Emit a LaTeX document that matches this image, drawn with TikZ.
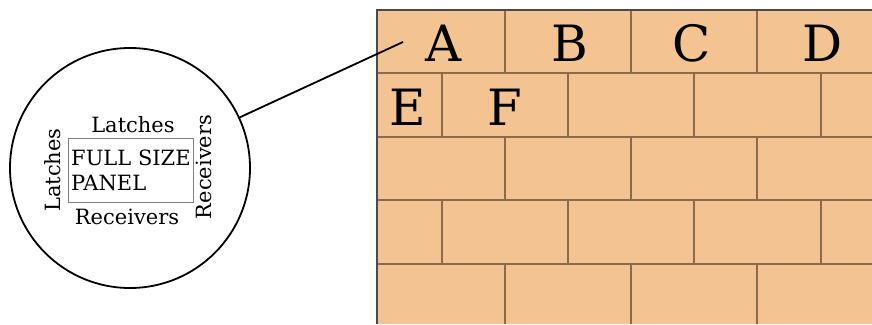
\documentclass[tikz,border=0pt]{standalone}
\usepackage{fontspec}
\setmainfont{DejaVu Serif}
\definecolor{brickfill}{HTML}{F3C491}
\definecolor{brickline}{HTML}{8C6B4A}
\definecolor{walledge}{HTML}{4A4A4A}
\begin{document}
\begin{tikzpicture}[x=1pt,y=-1pt,
  brick/.style={draw=brickline, line width=1.2pt},
  lbl/.style={font=\fontsize{21}{23}\selectfont, inner sep=0pt},
  big/.style={font=\fontsize{50}{52}\selectfont, inner sep=0pt}]
\useasboundingbox (0,0) rectangle (872,324);
% wall
\fill[brickfill] (377,10) rectangle (872,324);
\foreach \y in {73,137,200,264} \draw[brick] (377,\y) -- (872,\y);
\foreach \ya/\yb in {10/73,137/200,264/324}
  \foreach \x in {505,631,757} \draw[brick] (\x,\ya) -- (\x,\yb);
\foreach \ya/\yb in {73/137,200/264}
  \foreach \x in {442,568,694,821} \draw[brick] (\x,\ya) -- (\x,\yb);
\draw[draw=walledge, line width=2pt] (377,324) -- (377,10) -- (872,10);
% letters
\node[big] (A) at (444,43) {A};
\node[big] (B) at (570,43) {B};
\node[big] (C) at (692,43) {C};
\node[big] (D) at (823,43) {D};
\node[big] (E) at (408,107) {E};
\node[big] (F) at (505,107) {F};
% detail circle
\node[circle, draw, line width=1.8pt, minimum size=240pt, inner sep=0pt] (circ) at (130,168) {};
\node[draw=gray, line width=0.8pt, minimum width=125pt, minimum height=64pt, inner sep=0pt] (panel) at (130.5,170) {};
\node[lbl, anchor=west] (full) at (71,158) {FULL SIZE};
\node[lbl, anchor=west] (pan) at (71,183) {PANEL};
\node[lbl] (ltop) at (133,125) {Latches};
\node[lbl, rotate=90] (lleft) at (53,170) {Latches};
\node[lbl, rotate=90] (rright) at (204,167) {Receivers};
\node[lbl] (rbot) at (127,217) {Receivers};
\coordinate (tip) at (403,42);
\draw[line width=1.8pt] (circ) -- (tip);
\end{tikzpicture}
\end{document}
